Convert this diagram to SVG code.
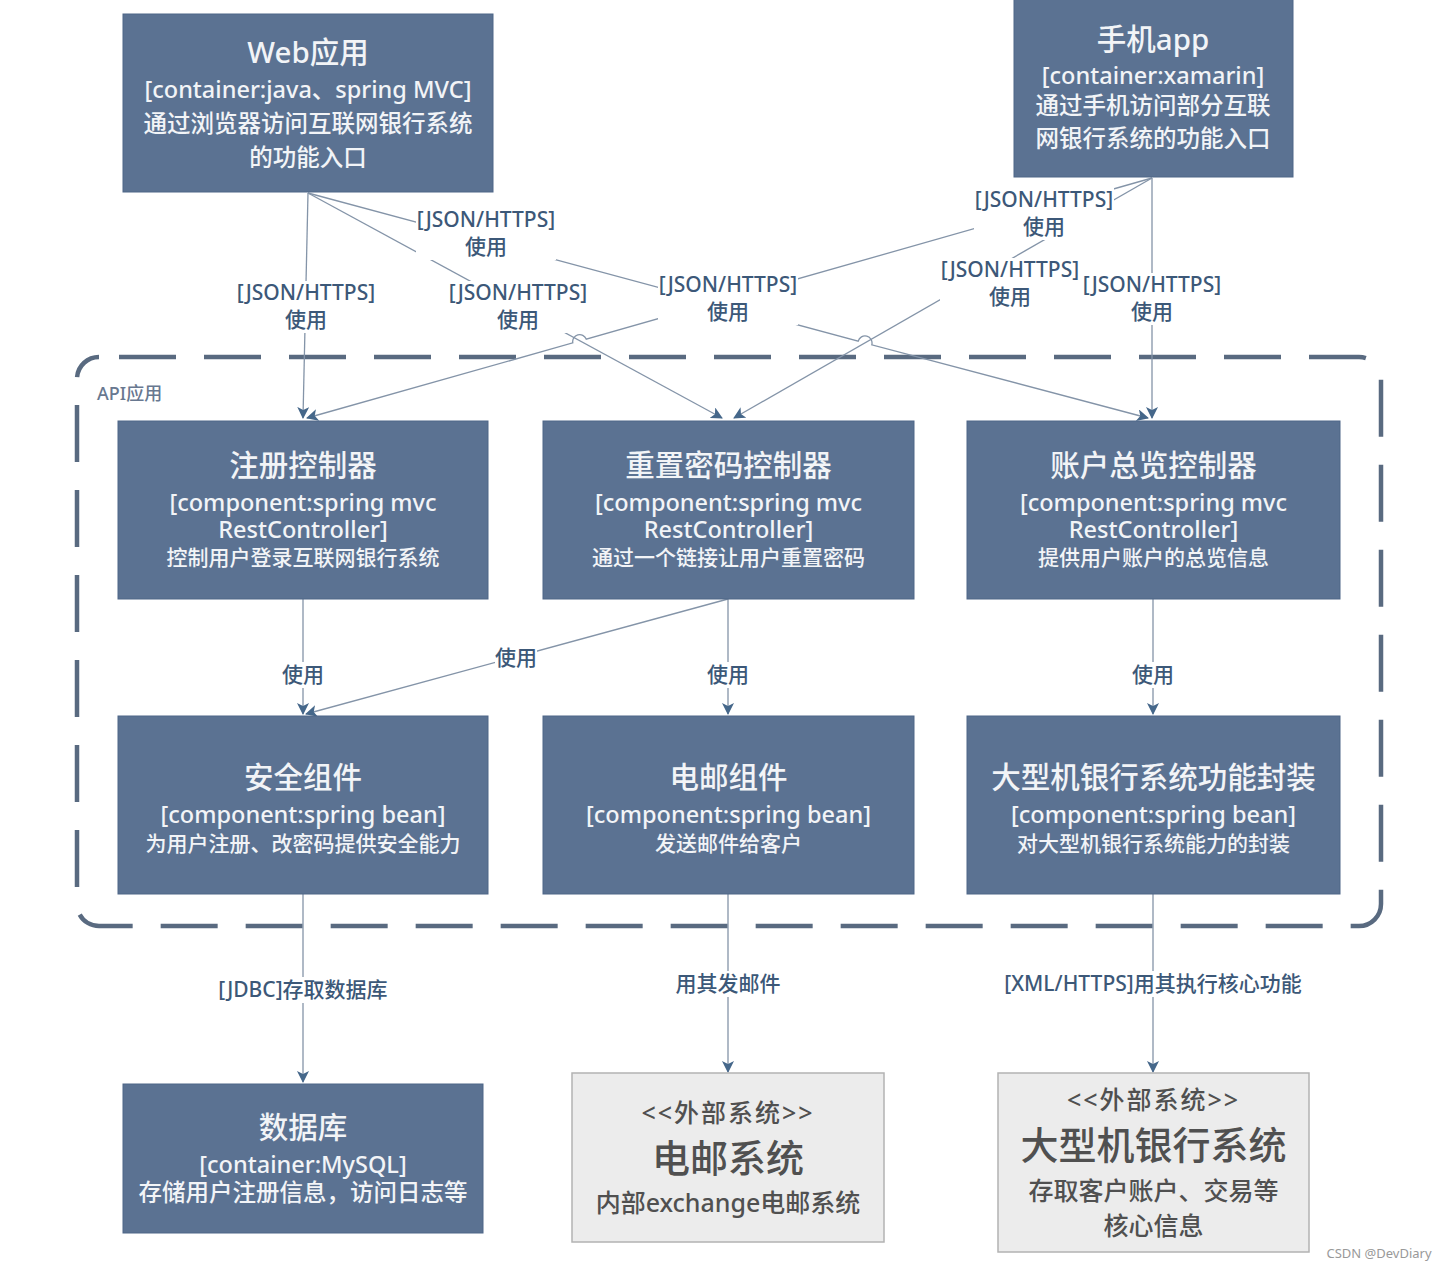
<svg xmlns="http://www.w3.org/2000/svg" width="1446" height="1270" viewBox="0 0 1446 1270">
<style>
text{font-family:"Noto Sans","Noto Sans CJK SC",sans-serif;text-anchor:middle;font-weight:500}
.box{fill:#5b7292;stroke:#4e6687;stroke-width:1}
.ext{fill:#ececec;stroke:#b3b3b3;stroke-width:1.5}
.t{fill:#f2f4f7;font-size:29.5px}
.s{fill:#f2f4f7;font-size:23.5px}
.d{fill:#f2f4f7;font-size:21px}
.g{fill:#505050;font-size:25px}
.gt{fill:#505050;font-size:38px}
.ln{fill:none;stroke:#8494a8;stroke-width:1.3}
.lb{fill:#3c5878;font-size:21px}
.bg{fill:#fff}
</style>
<defs>
<marker id="ar" markerWidth="12" markerHeight="12" refX="11" refY="6" orient="auto" markerUnits="userSpaceOnUse">
<path d="M0,0 L12,6 L0,12 L3,6 Z" fill="#45678a"/>
</marker>
</defs>
<rect width="1446" height="1270" fill="#fff"/>

<g id="boundary">
<rect x="77" y="357" width="1304" height="569" rx="22" fill="none" stroke="#596a80" stroke-width="4.5" stroke-dasharray="57 28" stroke-dashoffset="-20"/>
<text x="97" y="400" style="text-anchor:start;font-size:18px;fill:#687890">API应用</text>
</g>

<g id="connectors">
<path class="ln" d="M308,193 L303,418" marker-end="url(#ar)"/>
<path class="ln" d="M308,193 L722,418" marker-end="url(#ar)"/>
<path class="ln" d="M308,193 L858.2,341.2 A7,7 0 0 1 871.8,344.8 L1148,418" marker-end="url(#ar)"/>
<path class="ln" d="M1152,178 L586.2,339.1 A7,7 0 0 0 572.8,342.9 L307,418" marker-end="url(#ar)"/>
<path class="ln" d="M1152,178 L734,418" marker-end="url(#ar)"/>
<path class="ln" d="M1152,178 L1152,418" marker-end="url(#ar)"/>
<path class="ln" d="M303,599 L303,714" marker-end="url(#ar)"/>
<path class="ln" d="M728,599 L306,714" marker-end="url(#ar)"/>
<path class="ln" d="M728,599 L728,714" marker-end="url(#ar)"/>
<path class="ln" d="M1153,599 L1153,714" marker-end="url(#ar)"/>
<path class="ln" d="M303,894 L303,1082" marker-end="url(#ar)"/>
<path class="ln" d="M728,894 L728,1072" marker-end="url(#ar)"/>
<path class="ln" d="M1153,894 L1153,1072" marker-end="url(#ar)"/>

<g id="labels">
<rect class="bg" x="236" y="281" width="140" height="52"/>
<text class="lb" x="306" y="300">[JSON/HTTPS]</text><text class="lb" x="306" y="327">使用</text>
<rect class="bg" x="416" y="208" width="140" height="52"/>
<text class="lb" x="486" y="227">[JSON/HTTPS]</text><text class="lb" x="486" y="254">使用</text>
<rect class="bg" x="448" y="281" width="140" height="52"/>
<text class="lb" x="518" y="300">[JSON/HTTPS]</text><text class="lb" x="518" y="327">使用</text>
<rect class="bg" x="658" y="273" width="140" height="52"/>
<text class="lb" x="728" y="292">[JSON/HTTPS]</text><text class="lb" x="728" y="319">使用</text>
<rect class="bg" x="974" y="188" width="140" height="52"/>
<text class="lb" x="1044" y="207">[JSON/HTTPS]</text><text class="lb" x="1044" y="234">使用</text>
<rect class="bg" x="940" y="258" width="140" height="52"/>
<text class="lb" x="1010" y="277">[JSON/HTTPS]</text><text class="lb" x="1010" y="304">使用</text>
<rect class="bg" x="1082" y="273" width="140" height="52"/>
<text class="lb" x="1152" y="292">[JSON/HTTPS]</text><text class="lb" x="1152" y="319">使用</text>
<rect class="bg" x="282" y="662" width="42" height="26"/>
<text class="lb" x="303" y="682">使用</text>
<rect class="bg" x="495" y="645" width="42" height="26"/>
<text class="lb" x="516" y="665">使用</text>
<rect class="bg" x="707" y="662" width="42" height="26"/>
<text class="lb" x="728" y="682">使用</text>
<rect class="bg" x="1132" y="662" width="42" height="26"/>
<text class="lb" x="1153" y="682">使用</text>
<rect class="bg" x="216" y="977" width="174" height="26"/>
<text class="lb" x="303" y="997">[JDBC]存取数据库</text>
<rect class="bg" x="674" y="971" width="108" height="26"/>
<text class="lb" x="728" y="991">用其发邮件</text>
<rect class="bg" x="1001" y="971" width="304" height="26"/>
<text class="lb" x="1153" y="991">[XML/HTTPS]用其执行核心功能</text>
</g>
</g>

<g id="web">
<rect class="box" x="123" y="14" width="370" height="178"/>
<text class="t" x="308" y="63">Web应用</text>
<text class="s" x="308" y="98">[container:java、spring MVC]</text>
<text class="s" x="308" y="132">通过浏览器访问互联网银行系统</text>
<text class="s" x="308" y="166">的功能入口</text>
</g>
<g id="mobile">
<rect class="box" x="1014" y="-2" width="279" height="179"/>
<text class="t" x="1153" y="50">手机app</text>
<text class="s" x="1153" y="84">[container:xamarin]</text>
<text class="s" x="1153" y="114">通过手机访问部分互联</text>
<text class="s" x="1153" y="147">网银行系统的功能入口</text>
</g>

<g id="signin">
<rect class="box" x="118" y="421" width="370" height="178"/>
<text class="t" x="303" y="476">注册控制器</text>
<text class="s" x="303" y="511">[component:spring mvc</text>
<text class="s" x="303" y="538">RestController]</text>
<text class="d" x="303" y="565">控制用户登录互联网银行系统</text>
</g>
<g id="reset">
<rect class="box" x="543" y="421" width="371" height="178"/>
<text class="t" x="728.5" y="476">重置密码控制器</text>
<text class="s" x="728.5" y="511">[component:spring mvc</text>
<text class="s" x="728.5" y="538">RestController]</text>
<text class="d" x="728.5" y="565">通过一个链接让用户重置密码</text>
</g>
<g id="account">
<rect class="box" x="967" y="421" width="373" height="178"/>
<text class="t" x="1153.5" y="476">账户总览控制器</text>
<text class="s" x="1153.5" y="511">[component:spring mvc</text>
<text class="s" x="1153.5" y="538">RestController]</text>
<text class="d" x="1153.5" y="565">提供用户账户的总览信息</text>
</g>

<g id="security">
<rect class="box" x="118" y="716" width="370" height="178"/>
<text class="t" x="303" y="788">安全组件</text>
<text class="s" x="303" y="823">[component:spring bean]</text>
<text class="d" x="303" y="851">为用户注册、改密码提供安全能力</text>
</g>
<g id="email">
<rect class="box" x="543" y="716" width="371" height="178"/>
<text class="t" x="728.5" y="788">电邮组件</text>
<text class="s" x="728.5" y="823">[component:spring bean]</text>
<text class="d" x="728.5" y="851">发送邮件给客户</text>
</g>
<g id="mainframe-facade">
<rect class="box" x="967" y="716" width="373" height="178"/>
<text class="t" x="1153.5" y="788">大型机银行系统功能封装</text>
<text class="s" x="1153.5" y="823">[component:spring bean]</text>
<text class="d" x="1153.5" y="851">对大型机银行系统能力的封装</text>
</g>

<g id="database">
<rect class="box" x="123" y="1084" width="360" height="149"/>
<text class="t" x="303" y="1138">数据库</text>
<text class="s" x="303" y="1173">[container:MySQL]</text>
<text class="s" x="303" y="1201">存储用户注册信息，访问日志等</text>
</g>
<g id="email-system">
<rect class="ext" x="572" y="1073" width="312" height="169"/>
<text class="g" x="728" y="1122" style="letter-spacing:2px">&lt;&lt;外部系统&gt;&gt;</text>
<text class="gt" x="728" y="1172">电邮系统</text>
<text class="g" x="728" y="1212">内部exchange电邮系统</text>
</g>
<g id="mainframe">
<rect class="ext" x="998" y="1073" width="311" height="179"/>
<text class="g" x="1153.5" y="1109" style="letter-spacing:2px">&lt;&lt;外部系统&gt;&gt;</text>
<text class="gt" x="1153.5" y="1159">大型机银行系统</text>
<text class="g" x="1153.5" y="1200">存取客户账户、交易等</text>
<text class="g" x="1153.5" y="1235">核心信息</text>
</g>

<text x="1379" y="1258" style="font-size:13px;fill:#999;font-weight:400">CSDN @DevDiary</text>
</svg>
